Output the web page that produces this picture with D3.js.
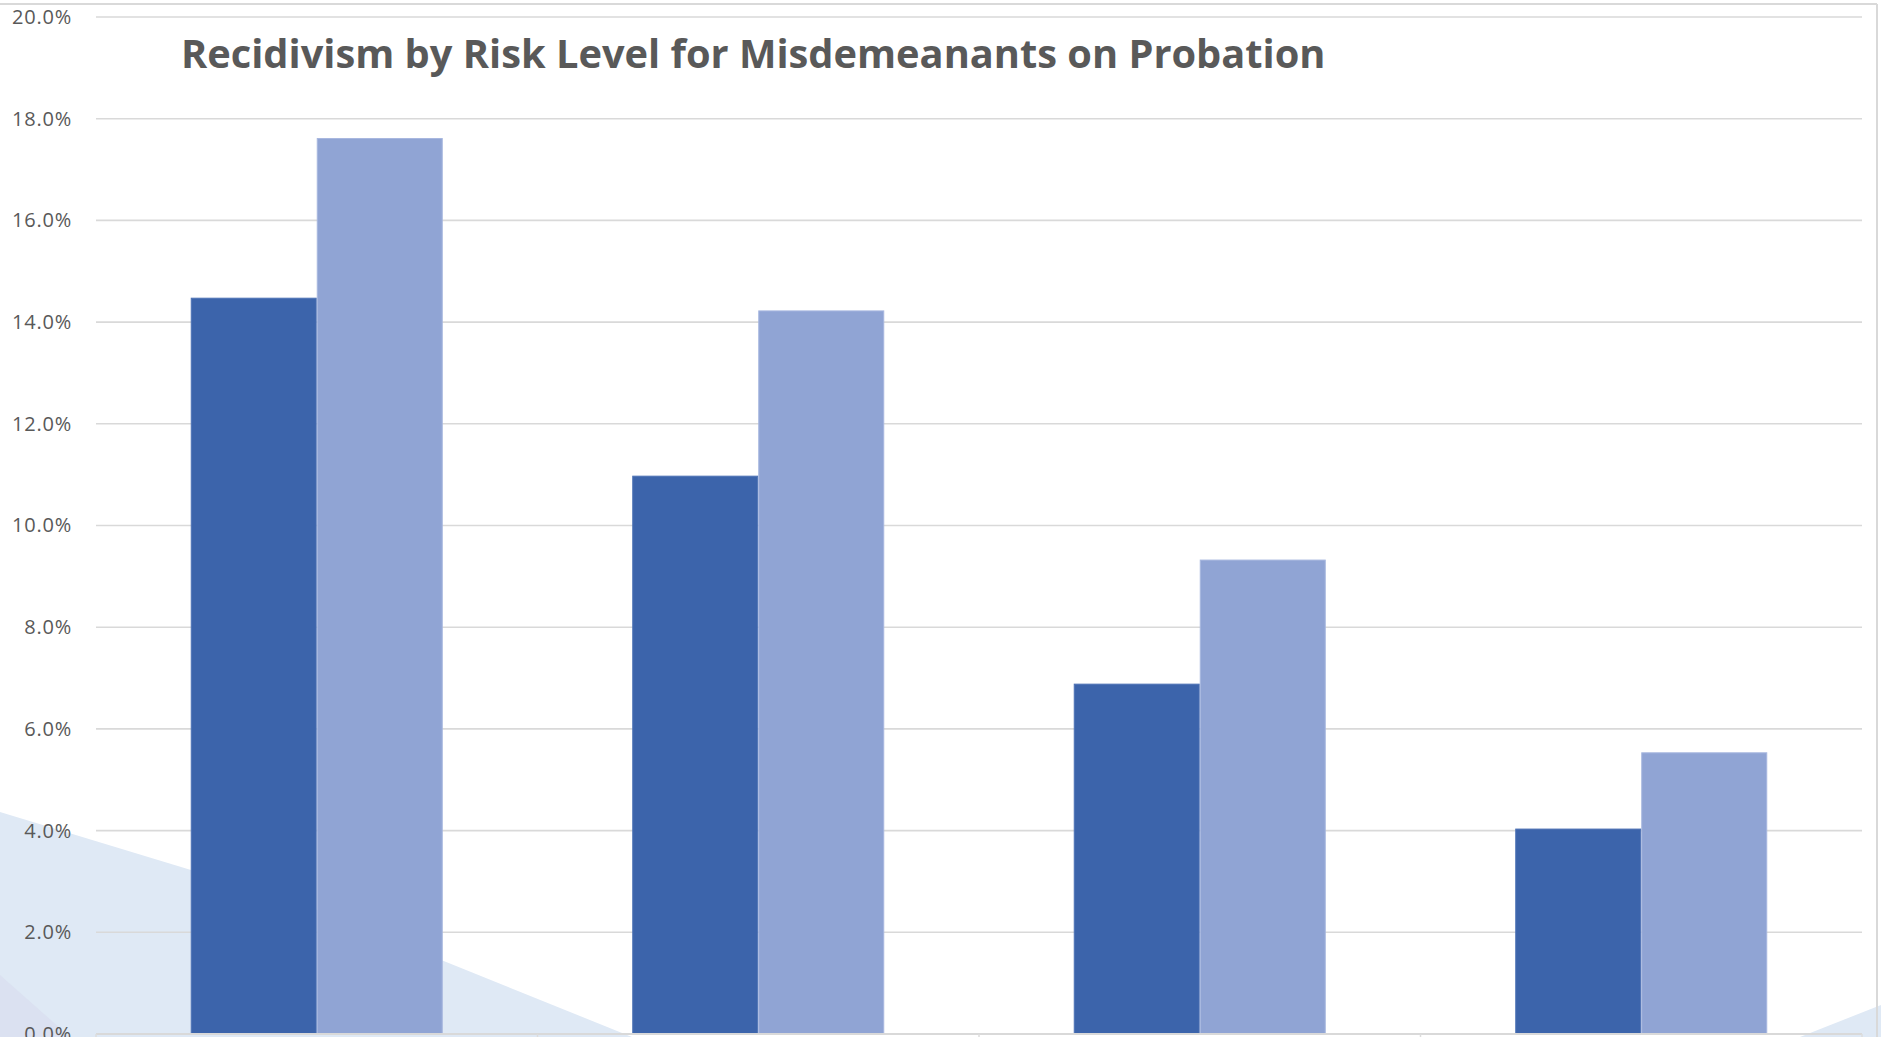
<!DOCTYPE html>
<html>
<head>
<meta charset="utf-8">
<script src="https://cdn.jsdelivr.net/npm/d3@7"></script>
<style>
  html, body { margin: 0; padding: 0; background: #ffffff; }
  svg { display: block; }
</style>
</head>
<body>
<svg id="chart" width="1881" height="1037"></svg>
<script>
// Risk levels along the x axis (labels fall below the visible frame)
const categories = ["High", "Moderate", "Low-Moderate", "Low"];
// Two comparison series per risk level
const seriesNames = ["Series 1", "Series 2"];
const series1 = [0.1447, 0.1097, 0.0688, 0.0403];
const series2 = [0.1761, 0.1422, 0.0932, 0.0553];
const yTicks = [0, 0.02, 0.04, 0.06, 0.08, 0.10, 0.12, 0.14, 0.16, 0.18, 0.20];
const titleText = "Recidivism by Risk Level for Misdemeanants on Probation";

const colors = { "Series 1": "#3c64ab", "Series 2": "#90a4d4" };
const strokes = { "Series 1": "#4d72b5", "Series 2": "#a7b7df" };

const svg = d3.select("#chart");
const W = 1881, H = 1037;
const plot = { left: 96, right: 1862, top: 17, bottom: 1034 };

// Slide background decoration
const bg = svg.append("g");
bg.append("polygon")
  .attr("points", [[0, 812], [300, 903], [632, 1037], [0, 1037]].join(" "))
  .attr("fill", "#dfe9f5");
bg.append("polygon")
  .attr("points", [[0, 975], [70, 1037], [0, 1037]].join(" "))
  .attr("fill", "#dbe1f1");
bg.append("polygon")
  .attr("points", [[1800, 1037], [1881, 1005], [1881, 1037]].join(" "))
  .attr("fill", "#dfe9f5");

// Chart frame
svg.append("line").attr("x1", 0).attr("x2", 1877).attr("y1", 4).attr("y2", 4)
  .attr("stroke", "#d9d9d9").attr("stroke-width", 2);
svg.append("line").attr("x1", 1877).attr("x2", 1877).attr("y1", 4).attr("y2", H)
  .attr("stroke", "#d9d9d9").attr("stroke-width", 2);

const y = d3.scaleLinear().domain([0, 0.2]).range([plot.bottom, plot.top]);
const x0 = d3.scaleBand().domain(categories)
  .range([plot.left, plot.right]).paddingInner(0.4292).paddingOuter(0.2146);
const x1 = d3.scaleBand().domain(seriesNames).range([0, x0.bandwidth()]).padding(0);

// Gridlines
svg.append("g").selectAll("line").data(yTicks.filter(t => t > 0)).join("line")
  .attr("x1", plot.left).attr("x2", plot.right)
  .attr("y1", d => y(d)).attr("y2", d => y(d))
  .attr("stroke", "#d9d9d9").attr("stroke-width", 1.6);

// Y axis labels
const yAxis = d3.axisLeft(y).tickValues(yTicks).tickFormat(d3.format(".1%")).tickSize(0).tickPadding(0);
const yg = svg.append("g").attr("transform", "translate(72,0)").call(yAxis);
yg.select(".domain").remove();
yg.selectAll("text")
  .attr("font-family", "'Open Sans', sans-serif")
  .attr("font-size", 20)
  .attr("letter-spacing", 0.8)
  .attr("fill", "#595959");

// Bars
const rows = categories.map((c, i) => ({ cat: c, values: [
  { key: seriesNames[0], value: series1[i] },
  { key: seriesNames[1], value: series2[i] }
]}));
svg.append("g").selectAll("g").data(rows).join("g")
  .attr("transform", d => `translate(${x0(d.cat)},0)`)
  .selectAll("rect").data(d => d.values).join("rect")
  .attr("x", d => x1(d.key) + 0.5)
  .attr("width", x1.bandwidth() - 1)
  .attr("y", d => y(d.value))
  .attr("height", d => y(0) - y(d.value))
  .attr("fill", d => colors[d.key])
  .attr("stroke", d => strokes[d.key])
  .attr("stroke-width", 1);

// X axis baseline and category boundary ticks
svg.append("line").attr("x1", plot.left).attr("x2", plot.right)
  .attr("y1", y(0)).attr("y2", y(0))
  .attr("stroke", "#d9d9d9").attr("stroke-width", 2);
const bounds = d3.range(categories.length + 1).map(i => plot.left + i * x0.step());
svg.append("g").selectAll("line").data(bounds).join("line")
  .attr("x1", d => d).attr("x2", d => d)
  .attr("y1", y(0)).attr("y2", y(0) + 6)
  .attr("stroke", "#dcdcdc").attr("stroke-width", 1.5);

// Title
const title = svg.append("text")
  .attr("x", 181).attr("y", 68)
  .attr("font-family", "'Open Sans', sans-serif")
  .attr("font-weight", 700)
  .attr("font-size", 38)
  .attr("fill", "#595959")
  .text(titleText);
const tw = title.node().getComputedTextLength();
title.attr("font-size", 38 * 1145 / tw);
</script>
</body>
</html>
